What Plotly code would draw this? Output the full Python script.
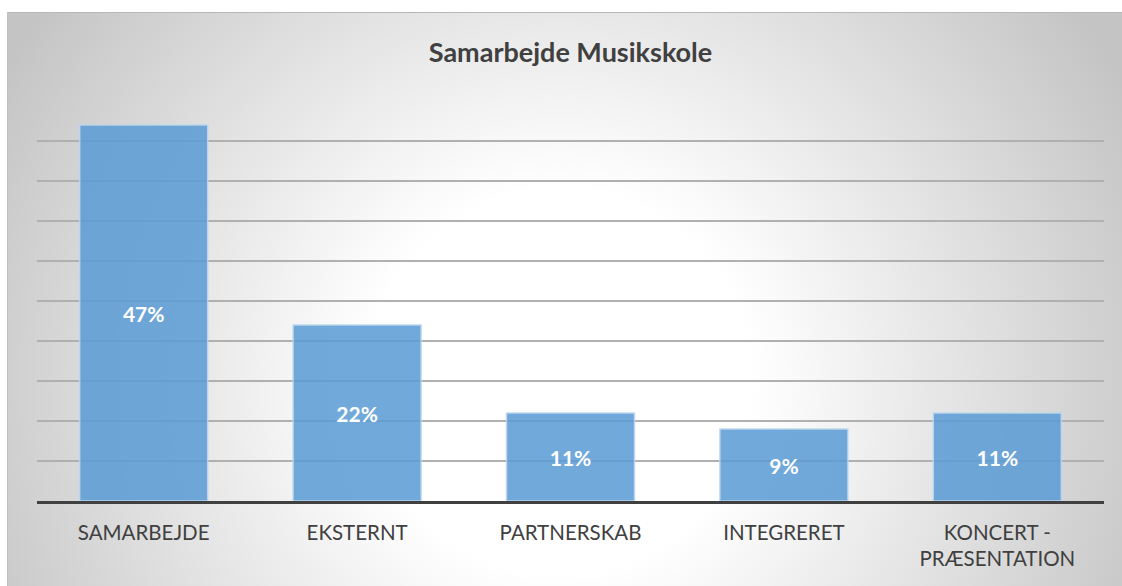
import base64
import plotly.graph_objects as go

categories = ["SAMARBEJDE", "EKSTERNT", "PARTNERSKAB", "INTEGRERET", "KONCERT -<br>PRÆSENTATION"]
values = [47, 22, 11, 9, 11]
labels = ["47%", "22%", "11%", "9%", "11%"]
title_text = "Samarbejde Musikskole"

W, H = 1122, 586
L, R, T, B = 37, 18, 101, 85
plot_w = W - L - R
plot_h = H - T - B

FW, FH = 1125, 574
svg = (
    f'<svg xmlns="http://www.w3.org/2000/svg" width="{FW}" height="{FH}" viewBox="0 0 {FW} {FH}" preserveAspectRatio="none">'
    '<defs><radialGradient id="g" gradientUnits="userSpaceOnUse" cx="553" cy="370" r="640">'
    '<stop offset="0" stop-color="#ffffff"/><stop offset="0.3" stop-color="#ffffff"/>'
    '<stop offset="1" stop-color="#c4c4c4"/></radialGradient></defs>'
    f'<rect x="0" y="0" width="{FW}" height="{FH}" fill="url(#g)"/>'
    f'<line x1="0" y1="0.5" x2="{FW}" y2="0.5" stroke="#b8b8b8" stroke-width="1"/>'
    f'<line x1="0.5" y1="0" x2="0.5" y2="{FH}" stroke="#c0c0c0" stroke-width="1"/>'
    '</svg>'
)
src = "data:image/svg+xml;base64," + base64.b64encode(svg.encode()).decode()

frame_x = 7
frame_y = 12

fig = go.Figure(
    go.Bar(
        x=categories,
        y=values,
        text=labels,
        texttemplate="%{text}",
        textposition="inside",
        insidetextanchor="middle",
        textangle=0,
        textfont=dict(family="Lato", size=21, color="white", weight="bold"),
        marker=dict(color="rgba(91,155,213,0.86)", line=dict(color="rgba(190,215,240,0.9)", width=1.5)),
        cliponaxis=False,
    )
)

fig.update_layout(
    width=W,
    height=H,
    margin=dict(l=L, r=R, t=T, b=B, pad=0),
    paper_bgcolor="white",
    plot_bgcolor="rgba(0,0,0,0)",
    bargap=0.4,
    showlegend=False,
    title=dict(
        text=title_text,
        x=(L + plot_w / 2) / W,
        xanchor="center",
        y=1 - 53 / H,
        yanchor="middle",
        font=dict(family="Lato", size=27, color="#404040", weight="bold"),
    ),
    images=[
        dict(
            source=src,
            xref="paper",
            yref="paper",
            x=(frame_x - L) / plot_w,
            y=(H - B - frame_y) / plot_h,
            sizex=FW / plot_w,
            sizey=FH / plot_h,
            xanchor="left",
            yanchor="top",
            sizing="stretch",
            layer="below",
        )
    ],
    xaxis=dict(
        showline=True,
        linecolor="#404040",
        linewidth=3,
        ticks="",
        showgrid=False,
        tickfont=dict(family="Lato", size=20.5, color="#404040"),
        ticklabelstandoff=11,
    ),
    yaxis=dict(
        range=[0, 50],
        dtick=5,
        showgrid=True,
        gridcolor="#b0b0b0",
        gridwidth=1.5,
        zeroline=False,
        showticklabels=False,
        ticks="",
        showline=False,
    ),
)

fig.write_html(
    "out.html",
    config={"displayModeBar": False},
    post_script=(
        "document.body.style.margin='0';"
        "document.documentElement.style.overflow='hidden';"
        "document.body.style.overflow='hidden';"
    ),
)
